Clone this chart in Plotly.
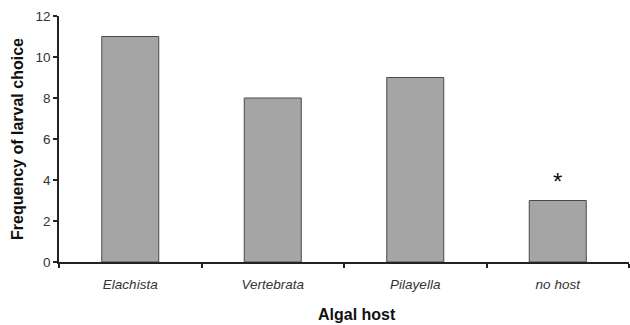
import plotly.graph_objects as go

hosts = ["Elachista", "Vertebrata", "Pilayella", "no host"]
choices = [11, 8, 9, 3]
y_ticks = [0, 2, 4, 6, 8, 10, 12]

font_family = "Liberation Sans, Arial, sans-serif"

fig = go.Figure(
    go.Bar(
        x=hosts,
        y=choices,
        width=0.4,
        marker=dict(color="#a5a5a5", line=dict(color="#4a4a4a", width=1)),
    )
)

# significance marker above the "no host" bar
fig.add_annotation(
    x="no host", y=choices[3], text="*", showarrow=False,
    yanchor="bottom", yshift=4,
    font=dict(family=font_family, size=24, color="#111"),
)

# x-axis title, set slightly right of the plot centre
fig.add_annotation(
    xref="paper", yref="paper", x=0.523, y=-0.215,
    xanchor="center", yanchor="middle", showarrow=False,
    text="<b>Algal host</b>",
    font=dict(family=font_family, size=16, color="#111"),
)

fig.update_layout(
    width=630, height=325,
    margin=dict(l=59, r=1, t=16, b=63),
    paper_bgcolor="white", plot_bgcolor="white",
    showlegend=False,
    font=dict(family=font_family, color="#333"),
)

fig.update_xaxes(
    type="category", range=[-0.5, 3.5],
    tickson="boundaries", ticks="outside", ticklen=4, tickwidth=1.5, tickcolor="#222",
    showline=True, linecolor="#222", linewidth=1.5,
    tickfont=dict(size=13.5, color="#333"),
    ticklabelstandoff=9,
    tickvals=hosts, ticktext=[f"<i>{h}</i>" for h in hosts],
    showgrid=False,
)
fig.update_yaxes(
    range=[0, 12], tickvals=y_ticks,
    ticks="outside", ticklen=4, tickwidth=1.5, tickcolor="#222",
    showline=True, linecolor="#222", linewidth=1.5,
    tickfont=dict(size=13.5, color="#333"),
    title=dict(text="<b>Frequency of larval choice</b>", font=dict(size=16, color="#111"), standoff=8),
    showgrid=False, zeroline=False,
)

fig.write_html("out.html")
